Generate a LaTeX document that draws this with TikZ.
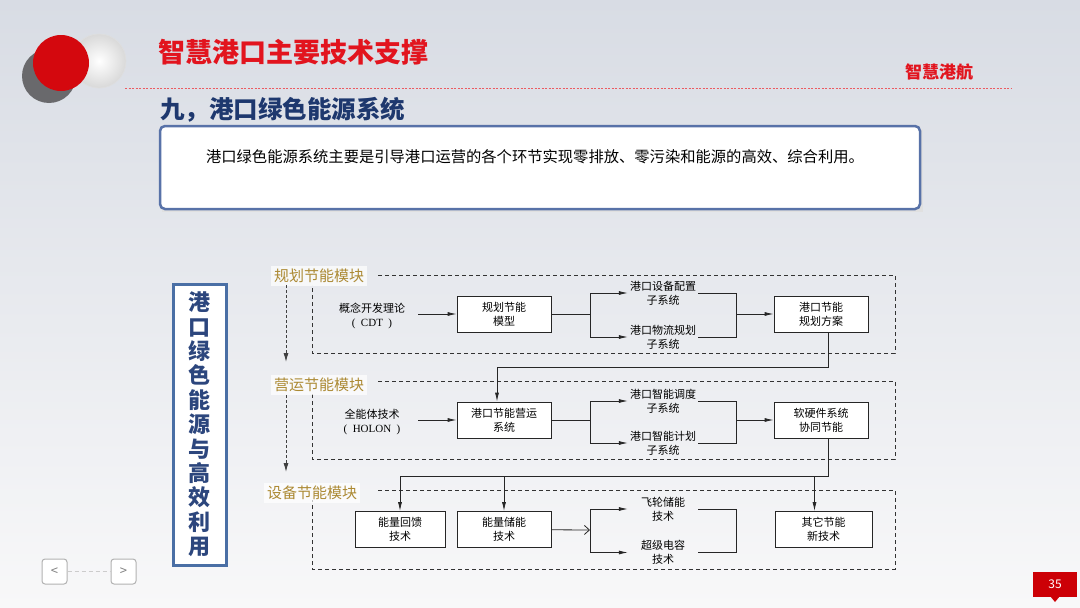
\documentclass[tikz,border=0pt]{standalone}
\usepackage{fontspec}
\setmainfont{Noto Sans CJK SC}
\newfontfamily\lser{Liberation Serif}
\usetikzlibrary{arrows.meta,calc}
\definecolor{hdred}{RGB}{226,20,30}
\definecolor{navy}{RGB}{30,56,110}
\definecolor{bord}{RGB}{88,114,168}
\definecolor{gold}{RGB}{172,138,52}
\definecolor{vblue}{RGB}{74,111,165}
\definecolor{vtext}{RGB}{44,70,125}
\definecolor{cgrey}{RGB}{105,105,108}
\definecolor{cred}{RGB}{212,8,14}
\definecolor{pgred}{RGB}{204,0,6}
\definecolor{bgtop}{RGB}{216,220,228}
\definecolor{bgmid}{RGB}{238,239,242}
\definecolor{bgbot}{RGB}{248,248,249}
\begin{document}
\begin{tikzpicture}[x=1pt,y=-1pt,
 fbox/.style={draw=black!85,line width=0.8pt,fill=white,minimum width=94pt,minimum height=36pt,inner sep=0pt,align=center,font=\fontsize{11}{14}\selectfont},
 sub/.style={minimum width=70pt,inner sep=0pt,align=center,font=\fontsize{11}{14}\selectfont},
 src/.style={minimum width=92pt,inner sep=0pt,align=center,font=\fontsize{11}{14}\selectfont},
 arr/.style={draw=black!85,line width=0.8pt,-{Latex[length=9pt,width=4pt]}},
 oarr/.style={draw=black!85,line width=0.8pt,-{Straight Barb[length=5pt,width=9pt]}},
 ln/.style={draw=black!85,line width=0.8pt},
 dbox/.style={draw=black!80,line width=0.9pt,dash pattern=on 4pt off 3pt},
 darr/.style={draw=black!75,line width=0.9pt,dash pattern=on 3pt off 2pt,-{Latex[length=9pt,width=5pt]}},
 mod/.style={text=gold,font=\fontsize{15}{18}\selectfont,fill=white,fill opacity=0.7,text opacity=1,inner sep=3pt},
]
\useasboundingbox (0,0) rectangle (1080,608);
\shade[top color=bgtop, middle color=bgmid, bottom color=bgbot] (0,0) rectangle (1080,608);

% header circles
\shade[inner color=white, outer color=gray!30] (99,61) circle (27);
\draw[gray!25, line width=0.6pt] (99,61) circle (27);
\fill[cgrey] (49,76) circle (27);
\fill[cred] (61,63) circle (28);

\node[text=hdred,font=\fontsize{27}{30}\selectfont\bfseries,anchor=west,inner sep=0pt] (title) at (158,52) {智慧港口主要技术支撑};
\node[text=hdred,font=\fontsize{17}{20}\selectfont\bfseries,inner sep=0pt] (brand) at (939,72) {智慧港航};
\draw[hdred!70, dash pattern=on 2pt off 1.5pt, line width=0.8pt] (125,88) -- (1012,88);
\node[text=navy,font=\fontsize{24.5}{27}\selectfont\bfseries,anchor=west,inner sep=0pt] (sec) at (160,110) {九，港口绿色能源系统};

% intro box
\fill[black!12] (162,129) rectangle (923,212);
\draw[bord, line width=2.5pt, fill=white, rounded corners=5pt] (160,126) rectangle (920,209);
\node[font=\fontsize{15.3}{18}\selectfont,inner sep=0pt] (intro) at (535,157) {港口绿色能源系统主要是引导港口运营的各个环节实现零排放、零污染和能源的高效、综合利用。};

% vertical title
\node[draw=vblue, line width=3pt, fill=white, minimum width=53pt, minimum height=281pt, inner sep=0pt, align=center, text=vtext, font=\fontsize{22}{24.4}\selectfont\bfseries] (vt) at (199.5,424.5) {港\\口\\绿\\色\\能\\源\\与\\高\\效\\利\\用};

% dashed module boxes
\draw[dbox] (378,275) -- (895,275) -- (895,353) -- (312,353) -- (312,285);
\draw[dbox] (378,381) -- (895,381) -- (895,459) -- (312,459) -- (312,392);
\draw[dbox] (378,490) -- (895,490) -- (895,569) -- (312,569) -- (312,500);

\node[mod] (g1) at (319,276) {规划节能模块};
\node[mod] (g2) at (319,385) {营运节能模块};
\node[mod] (g3) at (312,493) {设备节能模块};

\coordinate (d1a) at (286,285);
\coordinate (d1b) at (286,362);
\coordinate (d2a) at (286,395);
\coordinate (d2b) at (286,472);
\draw[darr] (d1a) -- (d1b);
\draw[darr] (d2a) -- (d2b);

% row 1
\node[src] (cdt) at (372,316) {概念开发理论\\{\lser ( \ CDT \ )}};
\node[fbox] (m1) at (504,314) {规划节能\\模型};
\coordinate (b1) at (590,314);
\node[sub] (s1a) at (663,293) {港口设备配置\\子系统};
\node[sub] (s1b) at (663,337) {港口物流规划\\子系统};
\coordinate (j1) at (736,314);
\node[fbox] (p1) at (821,314) {港口节能\\规划方案};
\draw[arr] (cdt.east |- m1) -- (m1);
\draw[ln] (m1) -- (b1);
\draw[arr] (b1) |- (s1a.west);
\draw[arr] (b1) |- (s1b.west);
\draw[ln] (s1a.east) -| (j1);
\draw[ln] (s1b.east) -| (j1);
\draw[arr] (j1) -- (p1);

% row 2
\node[src] (holon) at (372,422) {全能体技术\\{\lser ( \ HOLON \ )}};
\node[fbox] (m2) at (504,420) {港口节能营运\\系统};
\coordinate (b2) at (590,420);
\node[sub] (s2a) at (663,401) {港口智能调度\\子系统};
\node[sub] (s2b) at (663,443) {港口智能计划\\子系统};
\coordinate (j2) at (736,420);
\node[fbox] (p2) at (821,420) {软硬件系统\\协同节能};
\draw[arr] (holon.east |- m2) -- (m2);
\draw[ln] (m2) -- (b2);
\draw[arr] (b2) |- (s2a.west);
\draw[arr] (b2) |- (s2b.west);
\draw[ln] (s2a.east) -| (j2);
\draw[ln] (s2b.east) -| (j2);
\draw[arr] (j2) -- (p2);

% link row1 -> row2
\coordinate (p1o) at ([xshift=7pt]p1.south);
\coordinate (t1) at (497,367);
\coordinate (m2i) at ([xshift=-7pt]m2.north);
\draw[arr] (p1o) |- (t1) -- (m2i);

% row 3
\node[fbox, minimum width=90pt] (e1) at (400,529.5) {能量回馈\\技术};
\node[fbox] (e2) at (504,529.5) {能量储能\\技术};
\coordinate (b3) at (590,530);
\node[sub] (s3a) at (663,509) {飞轮储能\\技术};
\node[sub] (s3b) at (663,552.5) {超级电容\\技术};
\coordinate (j3) at (736,530);
\node[fbox, minimum width=97pt] (e4) at (823.5,529.5) {其它节能\\新技术};
\draw[oarr] (e2) -- (b3);
\draw[arr] (b3) |- (s3a.west);
\draw[arr] (b3) |- (s3b.west);
\draw[ln] (s3a.east) -| (j3);
\draw[ln] (s3b.east) -| (j3);

% link row2 -> row3
\coordinate (p2o) at ([xshift=7pt]p2.south);
\coordinate (h) at (400,476);
\coordinate (e4t) at ([xshift=-9pt]e4.north);
\draw[ln] (p2o) |- (h);
\draw[arr] (h) -- (e1.north);
\draw[arr] (h -| e2.north) -- (e2.north);
\draw[arr] (e4t |- h) -- (e4t);

% navigation buttons
\node[draw=gray!60, line width=1pt, rounded corners=3pt, minimum width=25pt, minimum height=25pt, fill=white, text=gray, font=\fontsize{13}{13}\selectfont, inner sep=0pt] (prev) at (54.5,571.5) {<};
\node[draw=gray!60, line width=1pt, rounded corners=3pt, minimum width=25pt, minimum height=25pt, fill=white, text=gray, font=\fontsize{13}{13}\selectfont, inner sep=0pt] (next) at (123.5,571.5) {>};
\draw[gray!40, dash pattern=on 4pt off 3pt, line width=1pt] (prev) -- (next);

% page number
\fill[pgred] (1033,572) rectangle (1077,597);
\fill[pgred] (1050,596) -- (1055,602) -- (1060,596) -- cycle;
\node[text=white, font=\fontsize{12}{12}\selectfont, inner sep=0pt] (pg) at (1055,584.5) {35};
\end{tikzpicture}
\end{document}
